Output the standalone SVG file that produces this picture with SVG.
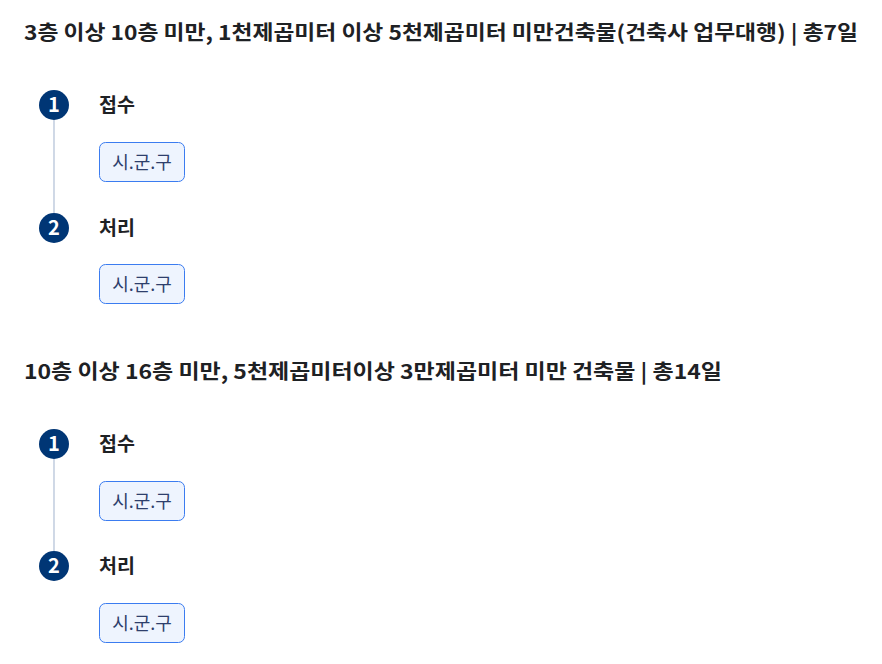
<svg xmlns="http://www.w3.org/2000/svg" width="882" height="664" viewBox="0 0 882 664">
<style>
text{font-family:"Noto Sans CJK KR","Noto Sans",sans-serif}
.title{font-size:20px;font-weight:700;fill:#1e2124}
.step{font-size:19.5px;font-weight:700;fill:#1e2124}
.num{font-size:20px;font-weight:700;fill:#ffffff;text-anchor:middle}
.circ{fill:#003675}
.tagbox{fill:#eef4fe;stroke:#3b7cf0;stroke-width:1}
.tag{font-size:18px;fill:#2e3f6c;text-anchor:middle}
.conn{stroke:#b0bfd6;stroke-width:1.2}
</style>
<rect width="882" height="664" fill="#ffffff"/>
<text class="title" x="24" y="40" textLength="834" lengthAdjust="spacingAndGlyphs">3층 이상 10층 미만, 1천제곱미터 이상 5천제곱미터 미만건축물(건축사 업무대행) | 총7일</text>
<text class="title" x="24" y="379" textLength="698" lengthAdjust="spacingAndGlyphs">10층 이상 16층 미만, 5천제곱미터이상 3만제곱미터 미만 건축물 | 총14일</text>
<g id="connectors">
<line class="conn" x1="54" y1="120" x2="54" y2="213"/>
<line class="conn" x1="54" y1="459" x2="54" y2="551"/>
</g>
<g id="s1-step1">
<circle class="circ" cx="54" cy="105" r="15"/>
<text class="num" x="54" y="112">1</text>
<text class="step" x="99" y="112">접수</text>
</g>
<g id="s1-tag1">
<rect class="tagbox" x="99.5" y="142.5" width="85" height="39" rx="6"/>
<text class="tag" x="142" y="168.5">시.군.구</text>
</g>
<g id="s1-step2">
<circle class="circ" cx="54" cy="228" r="15"/>
<text class="num" x="54" y="235">2</text>
<text class="step" x="99" y="235">처리</text>
</g>
<g id="s1-tag2">
<rect class="tagbox" x="99.5" y="264.5" width="85" height="39" rx="6"/>
<text class="tag" x="142" y="290.5">시.군.구</text>
</g>
<g id="s2-step1">
<circle class="circ" cx="54" cy="444" r="15"/>
<text class="num" x="54" y="451">1</text>
<text class="step" x="99" y="451">접수</text>
</g>
<g id="s2-tag1">
<rect class="tagbox" x="99.5" y="481.5" width="85" height="39" rx="6"/>
<text class="tag" x="142" y="507.5">시.군.구</text>
</g>
<g id="s2-step2">
<circle class="circ" cx="54" cy="566" r="15"/>
<text class="num" x="54" y="573">2</text>
<text class="step" x="99" y="573">처리</text>
</g>
<g id="s2-tag2">
<rect class="tagbox" x="99.5" y="603.5" width="85" height="39" rx="6"/>
<text class="tag" x="142" y="629.5">시.군.구</text>
</g>
</svg>
